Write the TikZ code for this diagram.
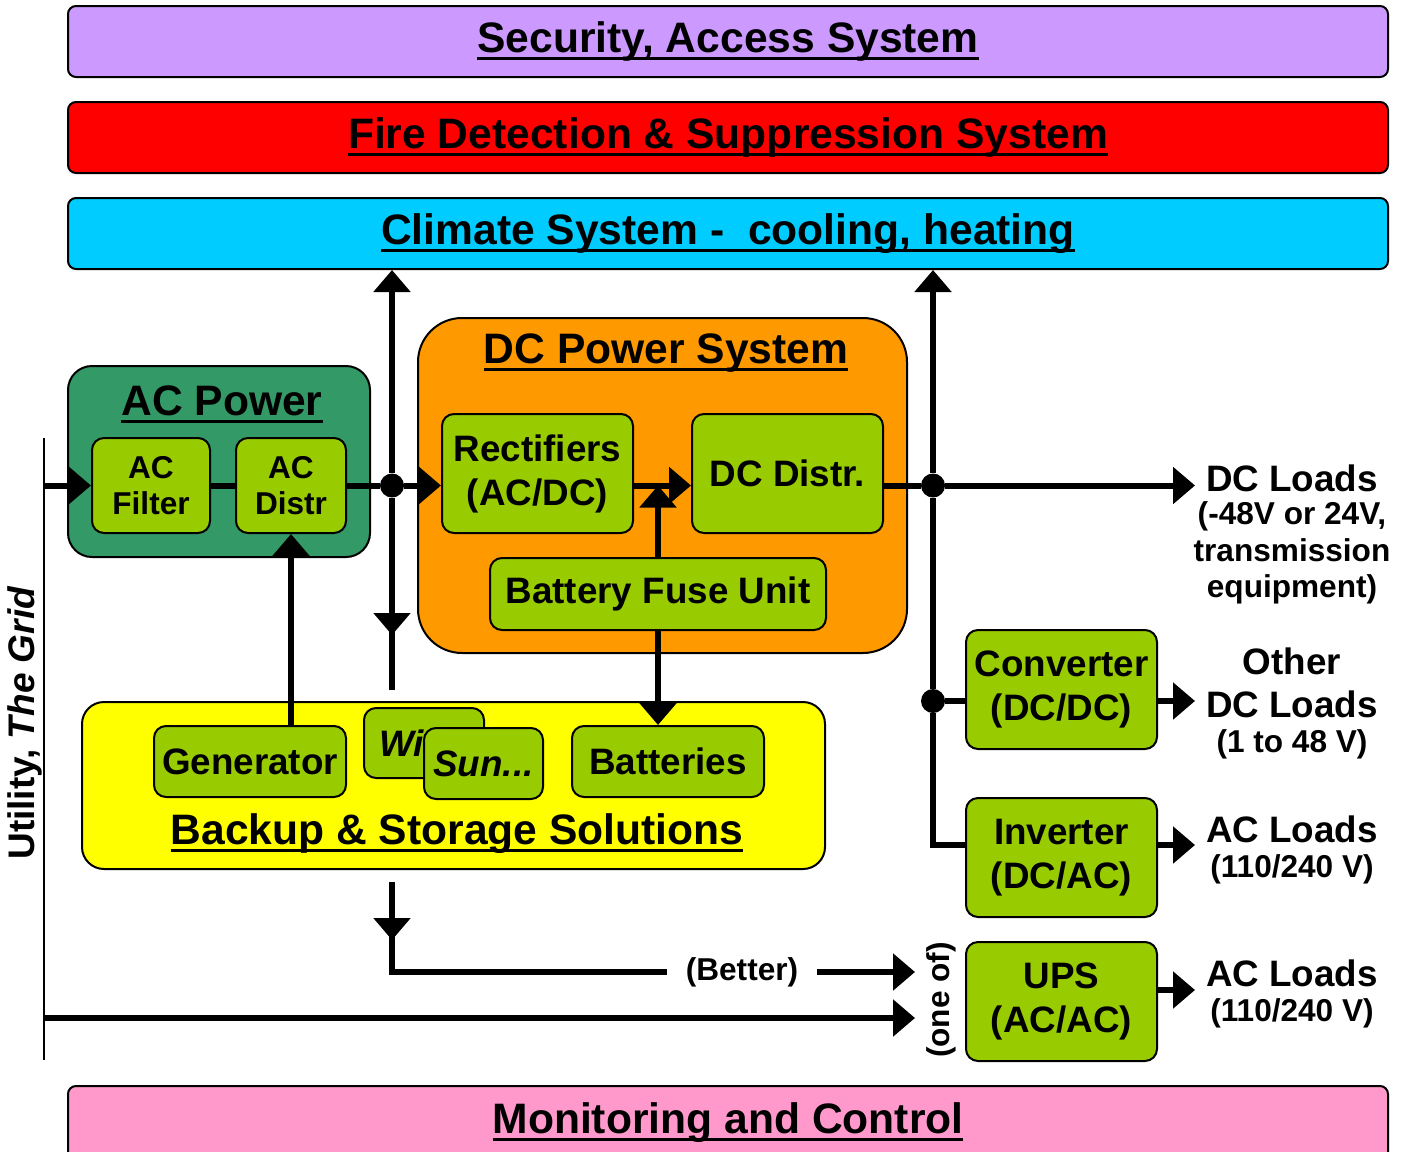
\documentclass[tikz,border=0pt]{standalone}
\usepackage{fontspec}
\setmainfont{Liberation Sans}
\usetikzlibrary{arrows.meta}
\definecolor{secviolet}{HTML}{CC99FF}
\definecolor{firered}{HTML}{FF0000}
\definecolor{climcyan}{HTML}{00CCFF}
\definecolor{monpink}{HTML}{FF99CC}
\definecolor{acgreen}{HTML}{339966}
\definecolor{dcorange}{HTML}{FF9900}
\definecolor{bakyellow}{HTML}{FFFF00}
\definecolor{unitgreen}{HTML}{99CC00}
\newcommand{\ulbar}[1]{\setbox0\hbox{#1}\rlap{\smash{\vrule height -2.2pt depth 3.7pt width \wd0}}\box0}
\newcommand{\bigfont}{\fontsize{21.3}{25}\selectfont\bfseries}
\newcommand{\midfont}{\fontsize{18.4}{22}\selectfont\bfseries}
\newcommand{\smallfont}{\fontsize{15.8}{18.3}\selectfont\bfseries}

\begin{document}
\begin{tikzpicture}[x=0.5pt,y=-0.5pt]
			\tikzstyle{every node}+=[inner sep=0pt]
			\tikzstyle{band}=[draw, line width=1pt, rounded corners=4pt, minimum width=660pt, minimum height=35.5pt, font=\bigfont]
			\tikzstyle{group}=[draw, line width=1pt]
			\tikzstyle{ttl}=[font=\bigfont]
			\tikzstyle{unit}=[draw, line width=1pt, fill=unitgreen, rounded corners=6pt, align=center, font=\midfont]
			\tikzstyle{lbl}=[align=center]
			\tikzstyle{wire}=[line width=3pt]
			\tikzstyle{arr}=[wire, -{Triangle[length=11pt,width=18pt]}]
			\tikzstyle{dot}=[circle, fill, minimum size=12pt]
			\useasboundingbox (0,0) rectangle (1407,1151);
			\node[band, fill=secviolet] (sec) at (728,41.5) {\ulbar{Security, Access System}};
			\node[band, fill=firered] (fire) at (728,137.5) {\ulbar{Fire Detection \& Suppression System}};
			\node[band, fill=climcyan] (clim) at (728,233.5) {\ulbar{Climate System -\ \ cooling, heating}};
			\node[band, fill=monpink, minimum height=37pt] (mon) at (728,1123) {\ulbar{Monitoring and Control}};
			\node[group, fill=acgreen, rounded corners=12pt, minimum width=151pt, minimum height=95.5pt] (acp) at (219,461.5) {};
			\node[ttl] (acpt) at (222,401) {\ulbar{AC Power}};
			\node[group, fill=dcorange, rounded corners=22pt, minimum width=244.5pt, minimum height=167.5pt] (dcp) at (662.5,485.5) {};
			\node[ttl] (dcpt) at (666,353) {\ulbar{DC Power System}};
			\node[group, fill=bakyellow, rounded corners=11pt, minimum width=371.5pt, minimum height=83.5pt] (bak) at (453.5,785.5) {};
			\node[ttl] (bakt) at (457,834) {\ulbar{Backup \& Storage Solutions}};
			\node[unit, font=\smallfont, minimum width=59pt, minimum height=47.5pt] (acf) at (151,485.5) {AC\\Filter};
			\node[unit, font=\smallfont, minimum width=55pt, minimum height=47.5pt] (acd) at (291,485.5) {AC\\Distr};
			\node[unit, minimum width=95.5pt, minimum height=59.5pt] (rect) at (537.5,473.5) {Rectifiers\\(AC/DC)};
			\node[unit, minimum width=95.5pt, minimum height=59.5pt] (dcd) at (787.5,473.5) {DC Distr.};
			\node[unit, minimum width=168pt, minimum height=36pt] (bfu) at (658,594) {Battery Fuse Unit};
			\node[unit, minimum width=96pt, minimum height=35.5pt] (gen) at (250,761.5) {Generator};
			\node[unit, font=\midfont\itshape, minimum width=60pt, minimum height=35pt] (wind) at (424,743) {Wind};
			\node[unit, font=\midfont\itshape, minimum width=59.5pt, minimum height=35.5pt] (sun) at (483.5,763.5) {Sun...};
			\node[unit, minimum width=96pt, minimum height=35.5pt] (bat) at (668,761.5) {Batteries};
			\node[unit, minimum width=95.5pt, minimum height=59.5pt] (conv) at (1061.5,689.5) {Converter\\(DC/DC)};
			\node[unit, minimum width=95.5pt, minimum height=59.5pt] (inv) at (1061.5,857.5) {Inverter\\(DC/AC)};
			\node[unit, minimum width=95.5pt, minimum height=59.5pt] (ups) at (1061.5,1001.5) {UPS\\(AC/AC)};
			\node[lbl, font=\midfont] (dcl1) at (1292,478) {DC Loads};
			\node[lbl, font=\smallfont] (dcl2) at (1292,553) {(-48V or 24V,\\transmission\\equipment)};
			\node[lbl, font=\fontsize{18.4}{21.5}\selectfont\bfseries] (odl1) at (1292,682.5) {Other\\DC Loads};
			\node[lbl, font=\smallfont] (odl2) at (1292,744) {(1 to 48 V)};
			\node[lbl, font=\midfont] (acl1) at (1292,829) {AC Loads};
			\node[lbl, font=\smallfont] (acl2) at (1292,869) {(110/240 V)};
			\node[lbl, font=\midfont] (acl3) at (1292,973) {AC Loads};
			\node[lbl, font=\smallfont] (acl4) at (1292,1013) {(110/240 V)};
			\node[lbl, font=\smallfont, inner sep=9pt] (better) at (742,972) {(Better)};
			\node[lbl, font=\smallfont, rotate=90] (oneof) at (941,1000) {(one of)};
			\node[lbl, font=\fontsize{18.5}{22}\selectfont\bfseries, rotate=90] (util) at (25,723) {Utility, \textit{The Grid}};
			\node[dot] (j1) at (392,485.5) {};
			\node[dot] (j2) at (933,485.5) {};
			\node[dot] (j3) at (933,701) {};
			\coordinate (g1) at (44,438);
			\coordinate (g2) at (44,1060);
			\coordinate (gin) at (44,485.5);
			\coordinate (gout) at (44,1018);
			\coordinate (j1a) at (392,635);
			\coordinate (j1c) at (392,620);
			\coordinate (j1b) at (392,690);
			\coordinate (j4) at (933,845);
			\coordinate (b1) at (392,882);
			\coordinate (b2) at (392,940);
			\coordinate (b2c) at (392,925);
			\coordinate (b3) at (392,972);
			\coordinate (oneA) at (915,972);
			\coordinate (oneB) at (915,1018);
			\coordinate (dcl) at (1195,485.5);
			\coordinate (odl) at (1195,701);
			\coordinate (acl) at (1195,845);
			\coordinate (acm) at (1195,990);
			\draw[line width=1pt] (g1) -- (g2);
			\draw[arr] (gin) -- (acf.west);
			\draw[wire] (acf.east) -- (acd.west);
			\draw[wire] (acd.east) -- (j1);
			\draw[arr] (j1) -- (rect.west |- j1);
			\draw[arr] (j1) -- (j1 |- clim.south);
			\draw[arr] (j1) -- (j1a);
			\draw[wire] (j1c) -- (j1b);
			\draw[arr] (acd.south |- gen.north) -- (acd.south);
			\draw[arr] (rect.east |- j1) -- (dcd.west |- j1);
			\draw[arr] (bfu.north) -- (bfu.north |- j1);
			\draw[arr] (bfu.south) -- (bfu.south |- bat.north);
			\draw[wire] (dcd.east |- j2) -- (j2);
			\draw[arr] (j2) -- (dcl);
			\draw[arr] (j2) -- (j2 |- clim.south);
			\draw[wire] (j2) -- (j3) -- (j4) -- (j4 -| inv.west);
			\draw[wire] (j3) -- (j3 -| conv.west);
			\draw[arr] (j3 -| conv.east) -- (odl);
			\draw[arr] (j4 -| inv.east) -- (acl);
			\draw[arr] (acm -| ups.east) -- (acm);
			\draw[arr] (b1) -- (b2);
			\draw[wire] (b2c) -- (b3) -- (better.west);
			\draw[arr] (better.east) -- (oneA);
			\draw[arr] (gout) -- (oneB);
		\end{tikzpicture}
\end{document}
